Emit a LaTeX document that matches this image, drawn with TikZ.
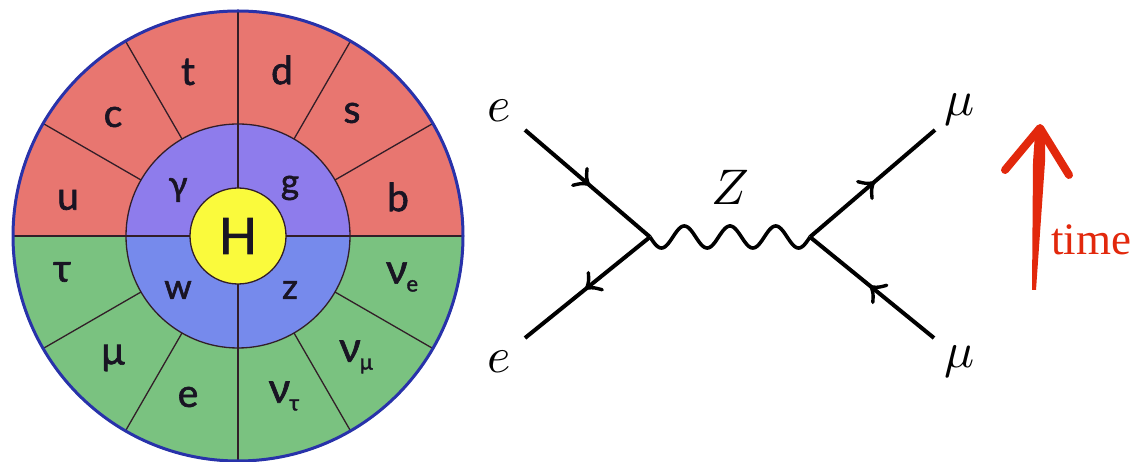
\documentclass[tikz,border=0pt]{standalone}
\usepackage{fontspec}
\usepackage{unicode-math}
\newfontfamily\wheelfont[FakeBold=1.6]{Lato}
\newfontfamily\timefont{Liberation Serif}
\usetikzlibrary{arrows.meta,decorations.markings,calc}
\definecolor{qred}{RGB}{232,118,112}
\definecolor{lgreen}{RGB}{122,194,128}
\definecolor{bpurple}{RGB}{142,124,236}
\definecolor{bblue}{RGB}{118,138,236}
\definecolor{hyellow}{RGB}{250,250,60}
\definecolor{rimblue}{RGB}{40,50,170}
\definecolor{divline}{RGB}{50,30,40}
\definecolor{wtext}{RGB}{25,20,35}
\definecolor{timered}{RGB}{226,40,12}
\newcommand{\nusub}[1]{{\fontsize{42}{44}\selectfont ν}\kern-1pt\raisebox{-0.2em}{\fontsize{22}{22}\selectfont #1}}
\begin{document}
\begin{tikzpicture}[x=1pt,y=1pt,
  divider/.style={draw=divline,line width=1.3pt},
  outerlbl/.style={text=wtext,font=\wheelfont\fontsize{39}{40}\selectfont,inner sep=0pt},
  innerlbl/.style={text=wtext,font=\wheelfont\fontsize{35}{38}\selectfont,inner sep=0pt},
  fermion/.style={line width=4pt,postaction={decorate},
    decoration={markings,mark=at position 0.5 with {
      \draw[line width=3.4pt,line cap=round,line join=round]
        (-10pt,11pt) .. controls (-5pt,4pt) .. (1pt,0pt) .. controls (-5pt,-4pt) .. (-10pt,-11pt);}}},
  boson/.style={line width=3.6pt},
  flabel/.style={font=\fontsize{50}{56}\selectfont,inner sep=0pt}]
\useasboundingbox (0,0) rectangle (1138,462);
\coordinate (C) at (238,226);
% wheel
\fill[qred] ($(C)+(0:226)$) arc[start angle=0,end angle=180,radius=226] -- cycle;
\fill[lgreen] ($(C)+(180:226)$) arc[start angle=180,end angle=360,radius=226] -- cycle;
\fill[bpurple] ($(C)+(0:112)$) arc[start angle=0,end angle=180,radius=112] -- cycle;
\fill[bblue] ($(C)+(180:112)$) arc[start angle=180,end angle=360,radius=112] -- cycle;
\foreach \a in {30,60,120,150,210,240,300,330}
  \draw[divider] ($(C)+(\a:112)$) -- ($(C)+(\a:226)$);
\foreach \a in {0,90,180,270}
  \draw[divider] ($(C)+(\a:48)$) -- ($(C)+(\a:226)$);
\draw[divider] (C) circle (112);
\filldraw[fill=hyellow,draw=divline,line width=1.3pt] (C) circle (48);
\draw[rimblue,line width=3pt] (C) circle (225);
% outer labels
\node[outerlbl] (lu) at (68,262) {u};
\node[outerlbl] (lc) at (113,345) {c};
\node[outerlbl] (lt) at (188,390) {t};
\node[outerlbl] (ld) at (282,392) {d};
\node[outerlbl] (ls) at (352,349) {s};
\node[outerlbl] (lb) at (398,265) {b};
\node[outerlbl] (ltau) at (62,190) {τ};
\node[outerlbl] (lmu) at (113,104) {μ};
\node[outerlbl] (le) at (188,65) {e};
\node[outerlbl] (lnt) at (284,66) {\nusub{τ}};
\node[outerlbl] (lnm) at (356,105) {\nusub{μ}};
\node[outerlbl] (lne) at (402,185) {\nusub{e}};
% inner labels
\node[innerlbl] (lg1) at (178,272) {γ};
\node[innerlbl] (lg2) at (290,274) {g};
\node[innerlbl] (lw) at (178,172) {w};
\node[innerlbl] (lz) at (290,172) {z};
\node[text=wtext,font=\wheelfont\fontsize{50}{52}\selectfont,inner sep=0pt] (lH) at (238,226) {H};
% Feynman diagram
\coordinate (v1) at (650,225);
\coordinate (v2) at (810,225);
\coordinate (e1) at (525,332);
\coordinate (e2) at (525,124);
\coordinate (m1) at (935,332);
\coordinate (m2) at (934,124);
\draw[fermion] (e1) -- (v1);
\draw[fermion] (v1) -- (e2);
\draw[fermion] (v2) -- (m1);
\draw[fermion] (m2) -- (v2);
\begin{scope}[shift={(v1)}]
\draw[boson,line join=round] plot[domain=0:160,samples=160,smooth] (\x,{-11*sin(7.875*\x)});
\end{scope}
\node[flabel] (te) at (499,351) {$e$};
\node[flabel] (be) at (499,100) {$e$};
\node[flabel] (tm) at (960,352) {$\mu$};
\node[flabel] (bm) at (960,100) {$\mu$};
\node[flabel] (Z) at (730,275) {$Z$};
% time arrow
\coordinate (tb) at (1034,172);
\coordinate (tt) at (1040,334);
\fill[timered] (1032,172) -- (1036,172) -- (1045,300) -- (1045,328) -- (1035,328) -- (1033,300) -- cycle;
\draw[timered,line width=8pt,line cap=round,line join=round] (1005,292) -- (tt) -- (1069,287);
\node[text=timered,font=\timefont\fontsize{45}{50}\selectfont,anchor=base west,inner sep=0pt] (time) at (1051,207) {time};
\end{tikzpicture}
\end{document}
